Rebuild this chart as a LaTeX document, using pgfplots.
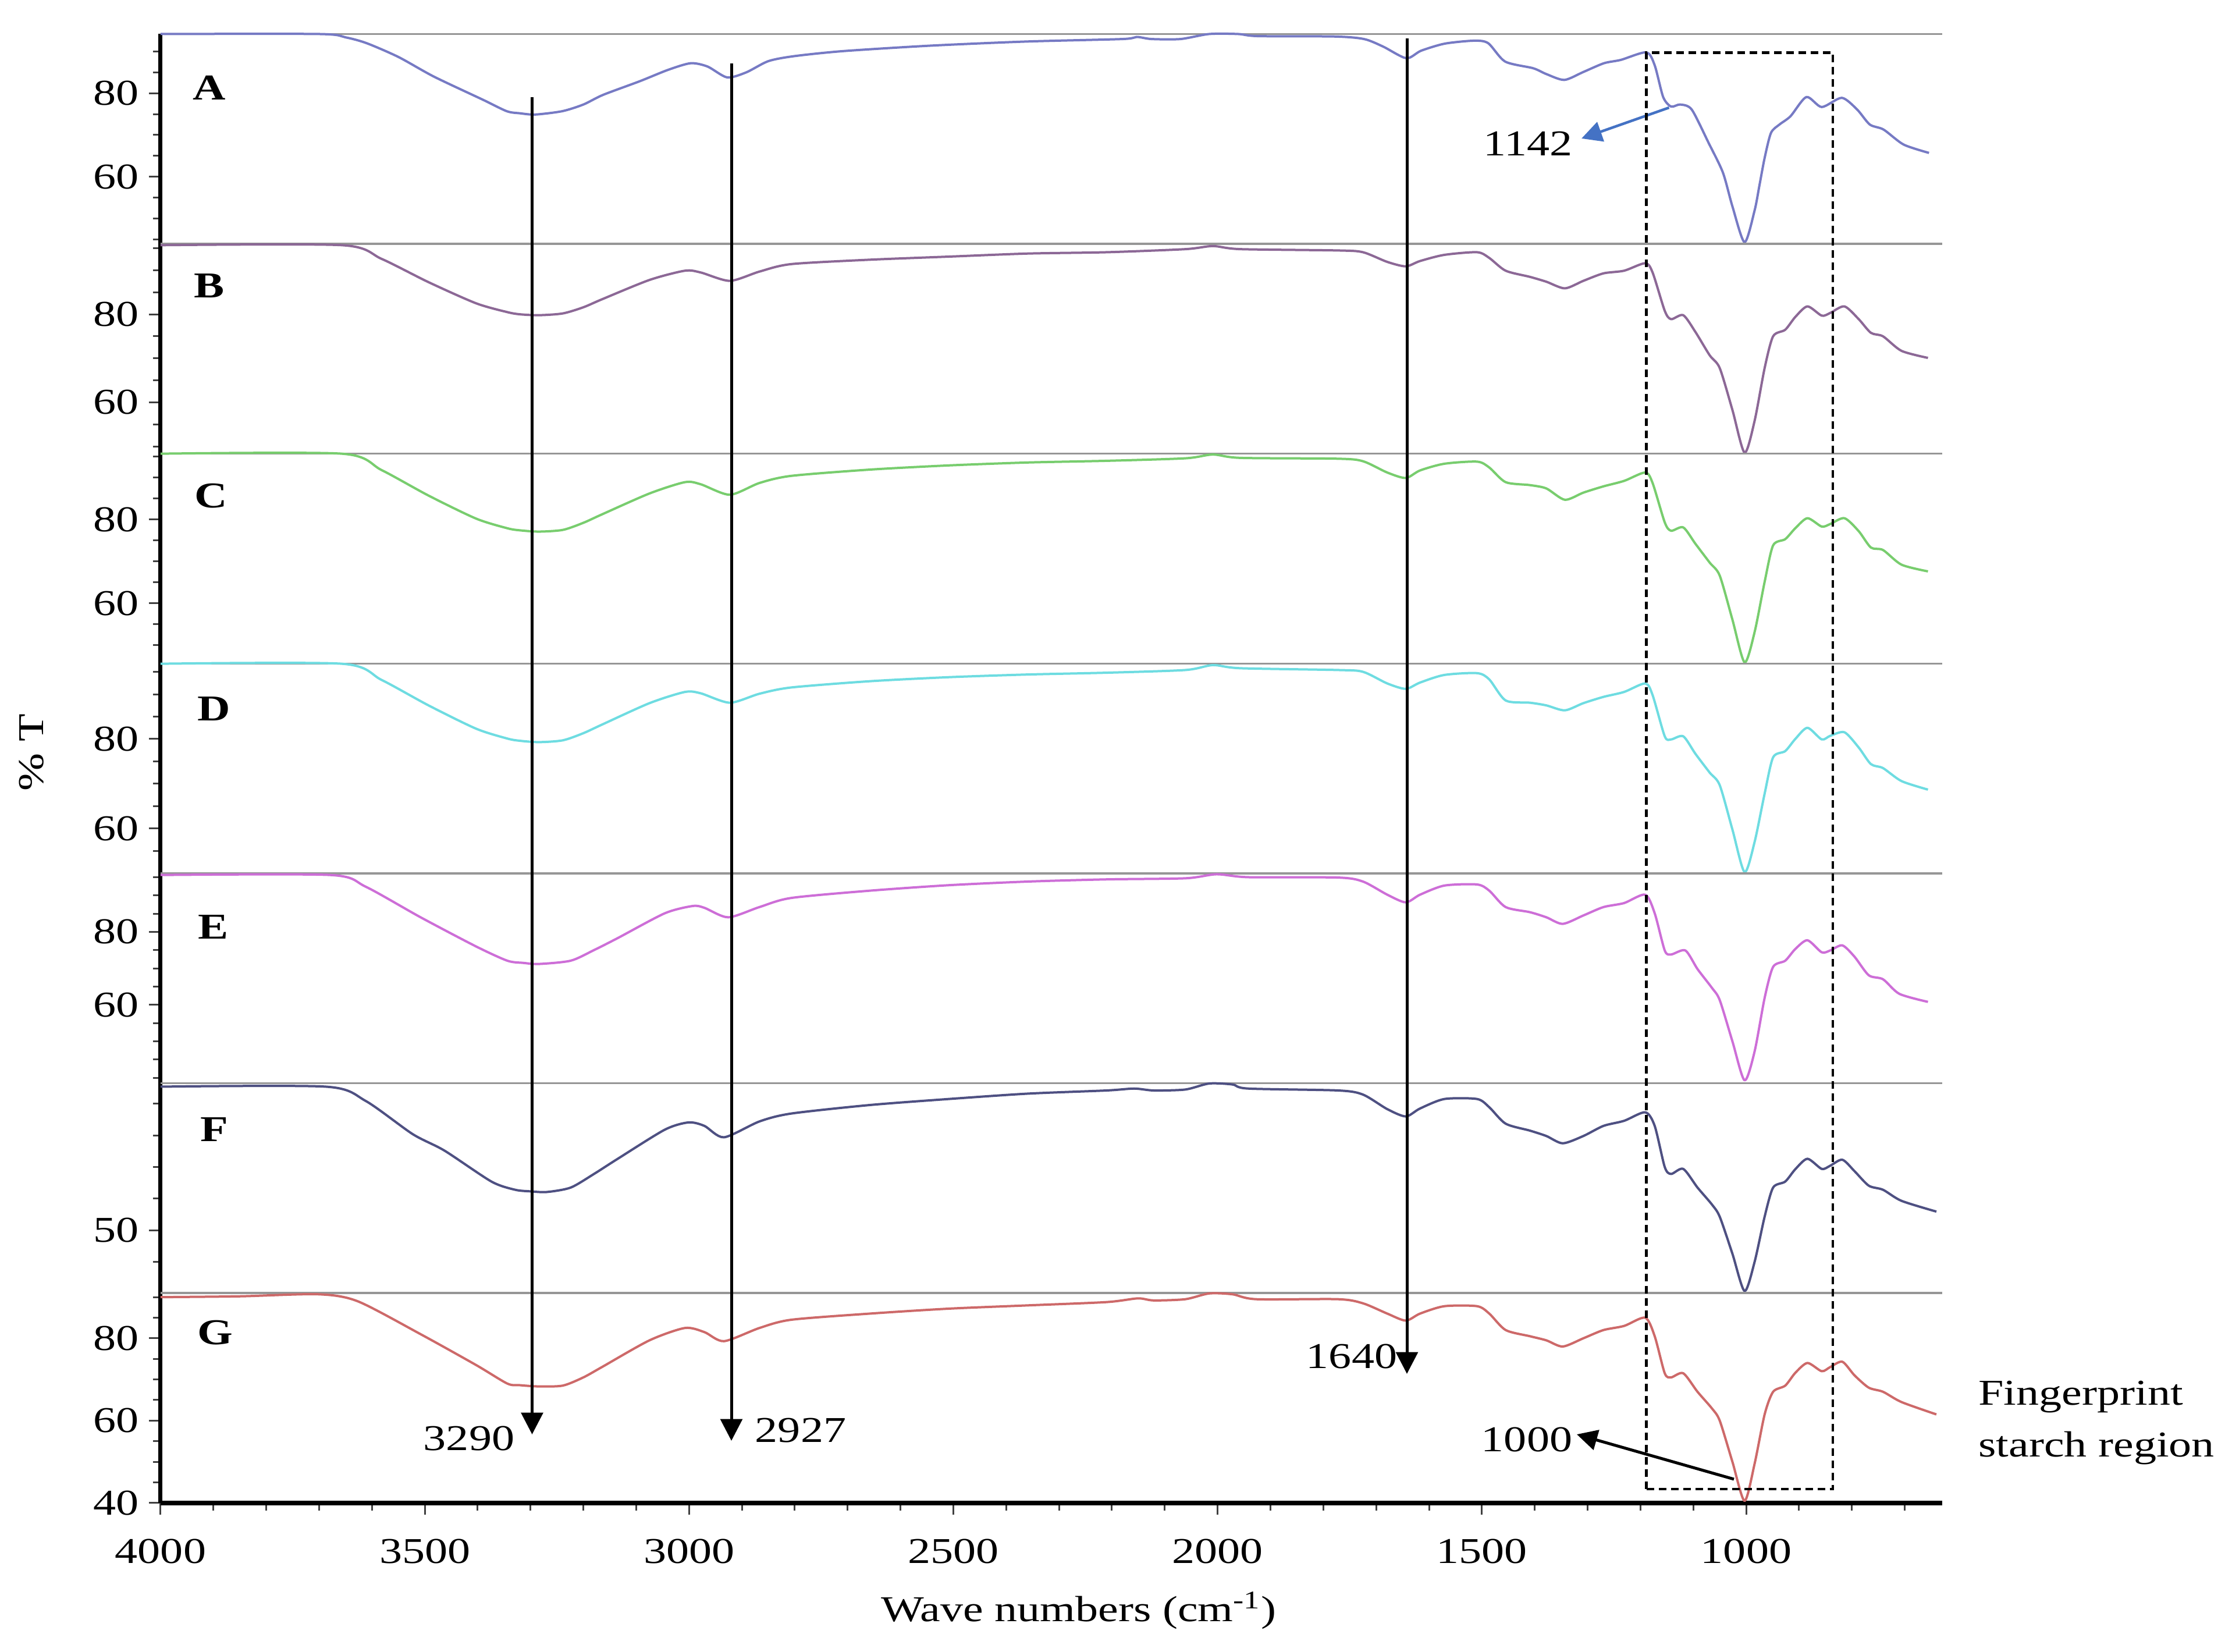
\documentclass[border=0pt]{standalone}
\usepackage{fontspec}
\setmainfont{Liberation Serif}[FakeStretch=1.25]
\usepackage{pgfplots}
\pgfplotsset{compat=1.18}
\usetikzlibrary{arrows.meta}

\definecolor{cA}{RGB}{118,122,196}
\definecolor{cB}{RGB}{140,104,150}
\definecolor{cC}{RGB}{120,205,110}
\definecolor{cD}{RGB}{110,220,225}
\definecolor{cE}{RGB}{205,110,215}
\definecolor{cF}{RGB}{78,80,130}
\definecolor{cG}{RGB}{205,105,105}
\definecolor{arrowblue}{RGB}{68,114,196}
\definecolor{sepgray}{RGB}{150,150,150}

\newcommand{\lblfont}{\fontsize{12.5}{15}\selectfont}

\pgfplotsset{
  panel/.style={
    scale only axis, width=612.4pt, height=72.12pt,
    xmin=629, xmax=4000, x dir=reverse,
    axis y line*=left,
    y axis line style={line width=1.4pt, black},
    ytick pos=left, tick align=outside,
    major tick length=4pt, minor tick length=2.6pt,
    every tick/.style={black!75, line width=0.6pt},
    yticklabel style={font=\lblfont},
    /pgf/number format/assume math mode=true,
    clip=false,
    every axis plot/.append style={line width=0.8pt, line join=round, mark=none, smooth, tension=0.45},
    anchor=north west,
  },
  noxaxis/.style={axis x line=none, xtick=\empty},
}

\begin{document}
\begin{tikzpicture}
\useasboundingbox (0,0) rectangle (764.8pt,567.6pt);

% ---------- A ----------
\begin{axis}[panel, noxaxis, at={(55.2pt,555.9pt)}, ymin=43.9, ymax=94.2,
  ytick={60,80}, minor ytick={45,50,...,90}]
\draw[sepgray, line width=0.7pt] (rel axis cs:0,1) -- (rel axis cs:1,1);
\addplot[cA] coordinates {(4000,94.2)(3700,94.2)(3650,93.4)(3610,92.0)(3550,88.7)(3483,84.0)(3391,78.5)(3345,75.7)(3320,75.2)(3291,74.9)(3240,75.7)(3200,77.3)(3163,79.6)(3093,82.9)(3040,85.6)(2997,87.2)(2965,86.4)(2928,83.8)(2892,85.0)(2850,87.7)(2801,88.9)(2709,90.1)(2545,91.4)(2362,92.4)(2180,93.0)(2153,93.5)(2125,93.0)(2070,93.0)(2016,94.2)(1961,94.2)(1924,93.7)(1778,93.6)(1723,93.0)(1687,91.2)(1643,88.4)(1615,90.2)(1570,91.9)(1515,92.6)(1488,92.0)(1456,87.6)(1403,86.0)(1378,84.6)(1344,83.2)(1308,85.1)(1269,87.2)(1237,88.0)(1189,89.8)(1173,86.7)(1157,79.1)(1142,76.8)(1125,77.3)(1103,76.1)(1071,68.1)(1044,61.0)(1026,52.9)(1003,44.3)(984,51.9)(975,57.8)(965,64.5)(953,70.5)(937,72.5)(916,74.5)(886,79.1)(857,76.7)(819,78.9)(790,76.1)(766,72.5)(740,71.3)(702,67.7)(654,65.7)};
\end{axis}

% ---------- B ----------
\begin{axis}[panel, noxaxis, at={(55.2pt,483.78pt)}, ymin=48.35, ymax=96.0,
  ytick={60,80}, minor ytick={50,55,...,95}]
\draw[sepgray, line width=0.7pt] (rel axis cs:0,1) -- (rel axis cs:1,1);
\addplot[cB] coordinates {(4000,95.7)(3657,95.7)(3582,92.6)(3493,87.3)(3403,82.5)(3344,80.5)(3320,80.0)(3284,79.8)(3239,80.2)(3200,81.6)(3165,83.4)(3075,87.8)(3008,89.9)(2978,89.5)(2923,87.6)(2867,89.7)(2807,91.4)(2658,92.4)(2509,93.1)(2359,93.8)(2210,94.1)(2061,94.8)(2009,95.5)(1957,94.8)(1772,94.5)(1725,94.1)(1679,91.9)(1644,90.9)(1617,92.1)(1571,93.5)(1509,94.1)(1486,92.8)(1455,89.9)(1409,88.5)(1378,87.4)(1343,85.9)(1308,87.6)(1270,89.3)(1231,89.9)(1191,91.6)(1177,89.5)(1154,80.8)(1142,78.9)(1119,79.8)(1096,76.0)(1069,70.7)(1050,67.8)(1026,58.3)(1003,48.6)(984,55.8)(965,67.8)(949,75.0)(926,76.5)(907,79.4)(884,81.8)(857,79.7)(841,80.3)(814,81.8)(787,78.9)(764,75.8)(741,75.0)(706,71.7)(656,70.1)};
\end{axis}

% ---------- C ----------
\begin{axis}[panel, noxaxis, at={(55.2pt,411.66pt)}, ymin=45.6, ymax=95.7,
  ytick={60,80}, minor ytick={50,55,...,95}]
\draw[sepgray, line width=0.7pt] (rel axis cs:0,1) -- (rel axis cs:1,1);
\addplot[cC] coordinates {(4000,95.7)(3657,95.7)(3582,91.8)(3493,85.7)(3403,80.2)(3344,77.9)(3320,77.4)(3284,77.1)(3239,77.5)(3200,79.2)(3165,81.2)(3075,86.2)(3008,88.9)(2978,88.4)(2923,85.9)(2867,88.7)(2807,90.4)(2658,91.9)(2509,92.9)(2359,93.6)(2210,94.0)(2061,94.6)(2009,95.5)(1957,94.7)(1772,94.5)(1725,93.9)(1679,91.2)(1644,89.9)(1617,91.7)(1571,93.3)(1509,93.8)(1486,92.4)(1455,88.9)(1409,88.2)(1378,87.4)(1343,84.7)(1308,86.4)(1270,87.9)(1231,89.2)(1191,91.2)(1177,88.7)(1154,79.3)(1142,77.3)(1119,78.1)(1096,74.2)(1069,69.7)(1050,66.6)(1026,56.1)(1003,45.9)(984,53.1)(965,65.1)(949,73.8)(926,75.3)(907,77.9)(884,80.3)(857,78.3)(841,78.9)(814,80.3)(787,77.2)(764,73.3)(741,72.7)(706,69.2)(656,67.6)};
\end{axis}

% ---------- D ----------
\begin{axis}[panel, noxaxis, at={(55.2pt,339.54pt)}, ymin=50.0, ymax=96.85,
  ytick={60,80}, minor ytick={55,60,...,95}]
\draw[sepgray, line width=0.7pt] (rel axis cs:0,1) -- (rel axis cs:1,1);
\addplot[cD] coordinates {(4000,96.8)(3657,96.8)(3582,93.2)(3493,87.5)(3403,82.3)(3344,80.1)(3320,79.6)(3284,79.3)(3239,79.7)(3200,81.3)(3165,83.2)(3075,88.0)(3008,90.5)(2978,90.2)(2923,88.1)(2867,90.1)(2807,91.5)(2658,92.9)(2509,93.8)(2359,94.4)(2210,94.8)(2061,95.4)(2009,96.5)(1957,95.8)(1772,95.4)(1725,95.0)(1679,92.4)(1644,91.2)(1617,92.6)(1571,94.3)(1509,94.7)(1486,93.3)(1455,88.6)(1409,88.1)(1378,87.5)(1343,86.4)(1308,88.0)(1270,89.4)(1231,90.5)(1191,92.4)(1177,89.8)(1154,80.6)(1142,79.9)(1119,80.6)(1096,76.7)(1069,72.5)(1050,69.7)(1026,59.8)(1003,50.3)(984,57.0)(965,67.8)(949,75.9)(926,77.3)(907,80.0)(884,82.5)(857,79.9)(841,80.7)(814,81.5)(787,78.1)(764,74.4)(741,73.5)(706,70.6)(656,68.7)};
\end{axis}

% ---------- E ----------
\begin{axis}[panel, noxaxis, at={(55.2pt,267.42pt)}, ymin=38.5, ymax=96.05,
  ytick={60,80}, minor ytick={40,45,...,95}]
\draw[sepgray, line width=0.7pt] (rel axis cs:0,1) -- (rel axis cs:1,1);
\addplot[cE] coordinates {(4000,95.6)(3679,95.6)(3612,92.4)(3508,84.0)(3403,76.0)(3344,72.1)(3314,71.5)(3284,71.2)(3224,72.1)(3180,75.0)(3135,78.3)(3046,85.1)(2993,87.1)(2971,86.6)(2926,84.0)(2867,86.8)(2807,89.3)(2658,91.3)(2509,92.8)(2359,93.8)(2210,94.4)(2061,94.7)(2002,95.8)(1942,95.0)(1772,94.9)(1725,93.8)(1679,90.2)(1644,88.1)(1617,90.2)(1571,92.7)(1509,93.0)(1486,91.3)(1455,86.8)(1409,85.4)(1378,84.0)(1347,82.2)(1308,84.5)(1270,86.8)(1231,87.9)(1191,90.2)(1173,85.1)(1154,74.9)(1142,73.8)(1115,74.9)(1092,69.8)(1065,64.7)(1050,61.3)(1026,50.0)(1003,39.3)(984,47.2)(965,61.9)(949,70.4)(926,72.1)(907,75.3)(884,77.7)(857,74.4)(841,74.9)(818,76.3)(795,73.2)(768,68.1)(741,67.0)(710,63.0)(656,60.8)};
\end{axis}

% ---------- F ----------
\begin{axis}[panel, noxaxis, at={(55.2pt,195.30pt)}, ymin=30.15, ymax=96.5,
  ytick={50}, minor ytick={40,60,70,80,90}]
\draw[sepgray, line width=0.7pt] (rel axis cs:0,1) -- (rel axis cs:1,1);
\addplot[cF] coordinates {(4000,95.4)(3687,95.4)(3612,90.9)(3523,80.4)(3463,75.2)(3374,65.4)(3329,62.8)(3300,62.3)(3269,62.1)(3224,63.5)(3180,67.8)(3135,72.6)(3046,81.8)(3001,84.1)(2971,83.0)(2934,79.4)(2867,84.4)(2807,86.9)(2658,89.6)(2509,91.5)(2359,93.2)(2210,94.2)(2158,94.8)(2121,94.2)(2061,94.5)(2016,96.4)(1972,96.1)(1942,94.8)(1772,94.2)(1725,92.9)(1679,88.3)(1644,86.0)(1617,88.5)(1571,91.5)(1509,91.5)(1486,88.9)(1455,83.7)(1409,81.5)(1378,79.8)(1347,77.5)(1308,79.8)(1270,83.0)(1231,84.6)(1191,87.3)(1173,83.0)(1154,70.0)(1142,67.8)(1119,69.4)(1092,63.5)(1065,58.2)(1050,54.3)(1026,42.6)(1003,30.8)(984,40.0)(965,54.3)(949,63.5)(926,65.4)(907,69.3)(884,72.6)(857,69.4)(841,70.4)(818,72.3)(795,68.7)(768,64.1)(741,62.8)(706,59.3)(640,55.9)};
\end{axis}

% ---------- G ----------
\begin{axis}[panel, at={(55.2pt,123.18pt)}, ymin=40, ymax=91,
  ytick={40,60,80}, minor ytick={45,50,...,90},
  axis x line*=bottom,
  x axis line style={line width=1.6pt, black},
  xtick={1000,1500,...,4000}, minor xtick={700,800,...,3900},
  xtick pos=bottom,
  xticklabel style={font=\lblfont, yshift=-5pt},
  scaled x ticks=false,
  xticklabel={\pgfmathprintnumber[fixed,1000 sep={}]{\tick}}]
\draw[sepgray, line width=0.7pt] (rel axis cs:0,1) -- (rel axis cs:1,1);
\addplot[cG] coordinates {(4000,90.0)(3850,90.2)(3702,90.7)(3627,89.0)(3508,81.0)(3403,73.5)(3344,69.0)(3320,68.6)(3284,68.3)(3239,68.5)(3200,70.5)(3165,73.0)(3075,79.5)(3008,82.5)(2971,81.5)(2934,79.3)(2867,82.5)(2807,84.5)(2658,86.0)(2509,87.2)(2359,88.0)(2210,88.8)(2151,89.7)(2121,89.2)(2061,89.5)(2016,90.9)(1972,90.7)(1927,89.5)(1772,89.5)(1725,88.5)(1679,86.0)(1644,84.3)(1617,86.0)(1571,87.8)(1509,87.8)(1486,86.0)(1455,82.0)(1409,80.5)(1378,79.5)(1347,78.0)(1308,80.0)(1270,82.0)(1231,83.0)(1191,85.0)(1173,80.5)(1154,71.5)(1142,70.5)(1119,71.5)(1092,67.0)(1065,63.0)(1050,60.0)(1026,50.0)(1003,40.5)(984,49.5)(965,61.5)(949,67.0)(926,68.5)(907,71.6)(884,74.0)(857,72.0)(841,73.0)(818,74.3)(795,71.0)(768,68.0)(741,67.0)(706,64.5)(640,61.5)};
\end{axis}

% ---------- annotations ----------
\begin{scope}[font=\lblfont]
\node[font=\lblfont\bfseries] at (72pt,537.4pt) {A};
\node[font=\lblfont\bfseries] at (72pt,469.4pt) {B};
\node[font=\lblfont\bfseries] at (72.6pt,397.2pt) {C};
\node[font=\lblfont\bfseries] at (73.6pt,324pt) {D};
\node[font=\lblfont\bfseries] at (73.4pt,249pt) {E};
\node[font=\lblfont\bfseries] at (73.6pt,179.4pt) {F};
\node[font=\lblfont\bfseries] at (74pt,109.6pt) {G};

\draw[line width=1pt, -{Triangle[length=7.5pt,width=7.5pt]}] (182.9pt,534.1pt) -- (182.9pt,74.6pt);
\draw[line width=1pt, -{Triangle[length=7.5pt,width=7.5pt]}] (251.4pt,545.8pt) -- (251.4pt,72.4pt);
\draw[line width=1pt, -{Triangle[length=7.5pt,width=7.5pt]}] (483.6pt,554.4pt) -- (483.6pt,95.4pt);

\node at (161.2pt,73.2pt) {3290};
\node at (275.2pt,76pt) {2927};
\node at (464.6pt,101.4pt) {1640};
\node at (524.8pt,72.8pt) {1000};
\node at (525.2pt,518.2pt) {1142};

\draw[arrowblue, line width=0.9pt, -{Triangle[length=7pt,width=7pt]}] (573.7pt,530.6pt) -- (543.6pt,520pt);
\draw[line width=1pt, -{Triangle[length=7pt,width=7pt]}] (596pt,59.2pt) -- (542pt,74.6pt);

\draw[line width=0.9pt, dash pattern=on 2.6pt off 1.6pt] (565.9pt,55.8pt) rectangle (630pt,549.5pt);

\node[anchor=west, align=left, font=\fontsize{12.5}{17.8}\selectfont] at (676.5pt,78.5pt) {Fingerprint\\starch region};

\node[rotate=90] at (10.8pt,309pt) {\% T};
\node at (370.8pt,14pt) {Wave numbers (cm\textsuperscript{-1})};
\end{scope}
\end{tikzpicture}
\end{document}
